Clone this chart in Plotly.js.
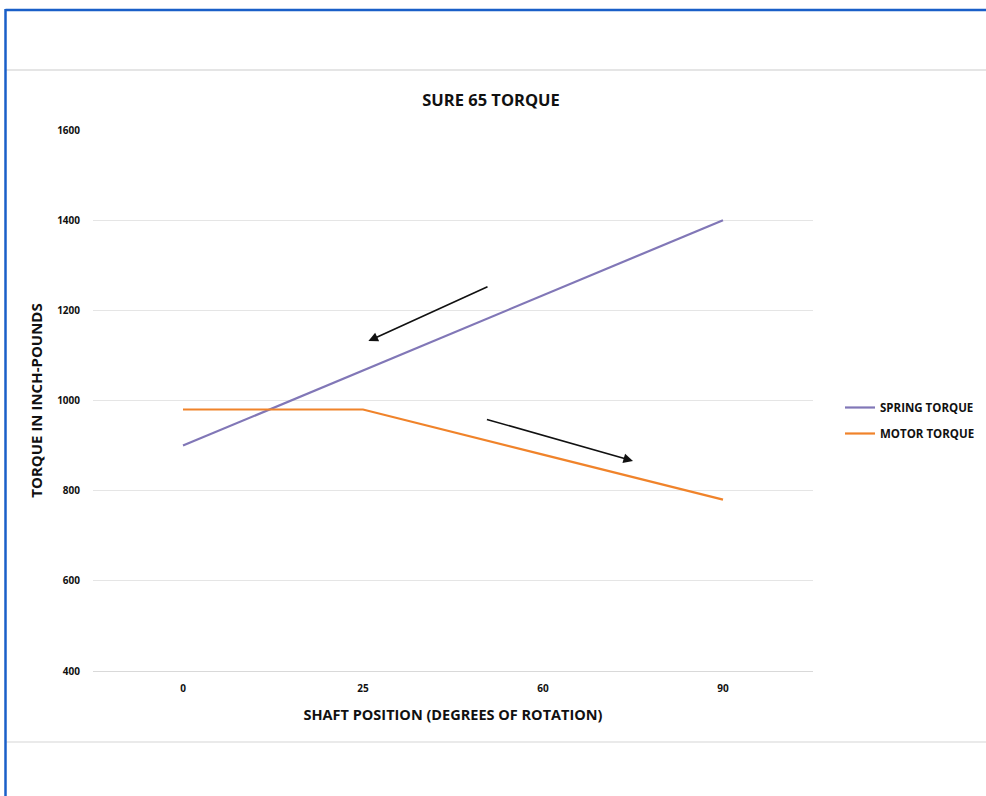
<!DOCTYPE html>
<html>
<head>
<meta charset="utf-8">
<script src="https://cdn.plot.ly/plotly-3.0.1.min.js"></script>
<style>
html,body{margin:0;padding:0;background:#fff;overflow:hidden;}
#chart{width:986px;height:796px;}
</style>
</head>
<body>
<div id="chart"></div>
<script>
const categories = ["0", "25", "60", "90"];
const springTorque = [900, 1067, 1233, 1400];
const motorTorque = [980, 980, 880, 780];
const yTicks = [400, 600, 800, 1000, 1200, 1400, 1600];

const FONT = "'Open Sans', Lato, sans-serif";

const traces = [
  {
    x: categories, y: springTorque, type: "scatter", mode: "lines",
    name: "SPRING TORQUE", legendgroup: "a",
    line: {color: "#8177b7", width: 2.2}
  },
  {
    x: categories, y: motorTorque, type: "scatter", mode: "lines",
    name: "MOTOR TORQUE", legendgroup: "b",
    line: {color: "#f0832a", width: 2.2}
  }
];

const layout = {
  width: 986, height: 796,
  margin: {l: 93, r: 173, t: 130, b: 125, autoexpand: false},
  paper_bgcolor: "#ffffff",
  plot_bgcolor: "#ffffff",
  font: {family: FONT, color: "#222", size: 11},
  title: {
    text: "<b>SURE 65 TORQUE</b>",
    font: {family: FONT, size: 16.5, color: "#111"},
    x: 491/986, xref: "container", xanchor: "center",
    y: 1 - 100/796, yref: "container", yanchor: "middle"
  },
  xaxis: {
    type: "category",
    range: [-0.5, 3.5],
    showgrid: false,
    showline: true, linecolor: "#d9d9d9", linewidth: 1,
    ticks: "", ticklabelstandoff: 8,
    tickfont: {family: FONT, size: 10, color: "#111", weight: "bold"},
    title: {text: "<b>SHAFT POSITION (DEGREES OF ROTATION)</b>", font: {family: FONT, size: 14.5, color: "#111"}, standoff: 15},
    zeroline: false, fixedrange: true
  },
  yaxis: {
    range: [400, 1600],
    tickvals: yTicks,
    showgrid: true, gridcolor: "#e5e5e5", gridwidth: 1,
    showline: false, zeroline: false,
    ticks: "", ticklabelstandoff: 12,
    tickfont: {family: FONT, size: 10, color: "#111", weight: "bold"},
    title: {text: "<b>TORQUE IN INCH-POUNDS</b>", font: {family: FONT, size: 15, color: "#111"}, standoff: 10},
    fixedrange: true
  },
  legend: {
    x: (840 - 93) / 720, xanchor: "left",
    y: 1 - (420.5 - 130) / 541, yanchor: "middle",
    font: {family: FONT, size: 11.5, color: "#111", weight: "bold"},
    bgcolor: "rgba(0,0,0,0)",
    itemwidth: 30, tracegroupgap: 7
  },
  showlegend: true,
  annotations: [
    {x: 1.03, y: 1132, ax: 1.70, ay: 1254, xref: "x", yref: "y", axref: "x", ayref: "y",
     showarrow: true, arrowhead: 2, arrowsize: 1.2, arrowwidth: 1.6, arrowcolor: "#111", text: ""},
    {x: 2.50, y: 866, ax: 1.68, ay: 959, xref: "x", yref: "y", axref: "x", ayref: "y",
     showarrow: true, arrowhead: 2, arrowsize: 1.2, arrowwidth: 1.6, arrowcolor: "#111", text: ""}
  ],
  shapes: [
    {type: "line", xref: "paper", yref: "paper", x0: (6-93)/720, x1: (986-93)/720, y0: 1-(70-130)/541, y1: 1-(70-130)/541, line: {color: "#dcdcdc", width: 1.5}},
    {type: "line", xref: "paper", yref: "paper", x0: (6-93)/720, x1: (986-93)/720, y0: 1-(742-130)/541, y1: 1-(742-130)/541, line: {color: "#e3e3e3", width: 1.5}},
    {type: "line", xref: "paper", yref: "paper", x0: (5.5-93)/720, x1: (986-93)/720, y0: 1-(10-130)/541, y1: 1-(10-130)/541, line: {color: "#1a5fc8", width: 2.5}},
    {type: "line", xref: "paper", yref: "paper", x0: (5.5-93)/720, x1: (5.5-93)/720, y0: 1-(9-130)/541, y1: 1-(800-130)/541, line: {color: "#1a5fc8", width: 2.5}}
  ]
};

Plotly.newPlot("chart", traces, layout, {displayModeBar: false, staticPlot: true});
</script>
</body>
</html>
